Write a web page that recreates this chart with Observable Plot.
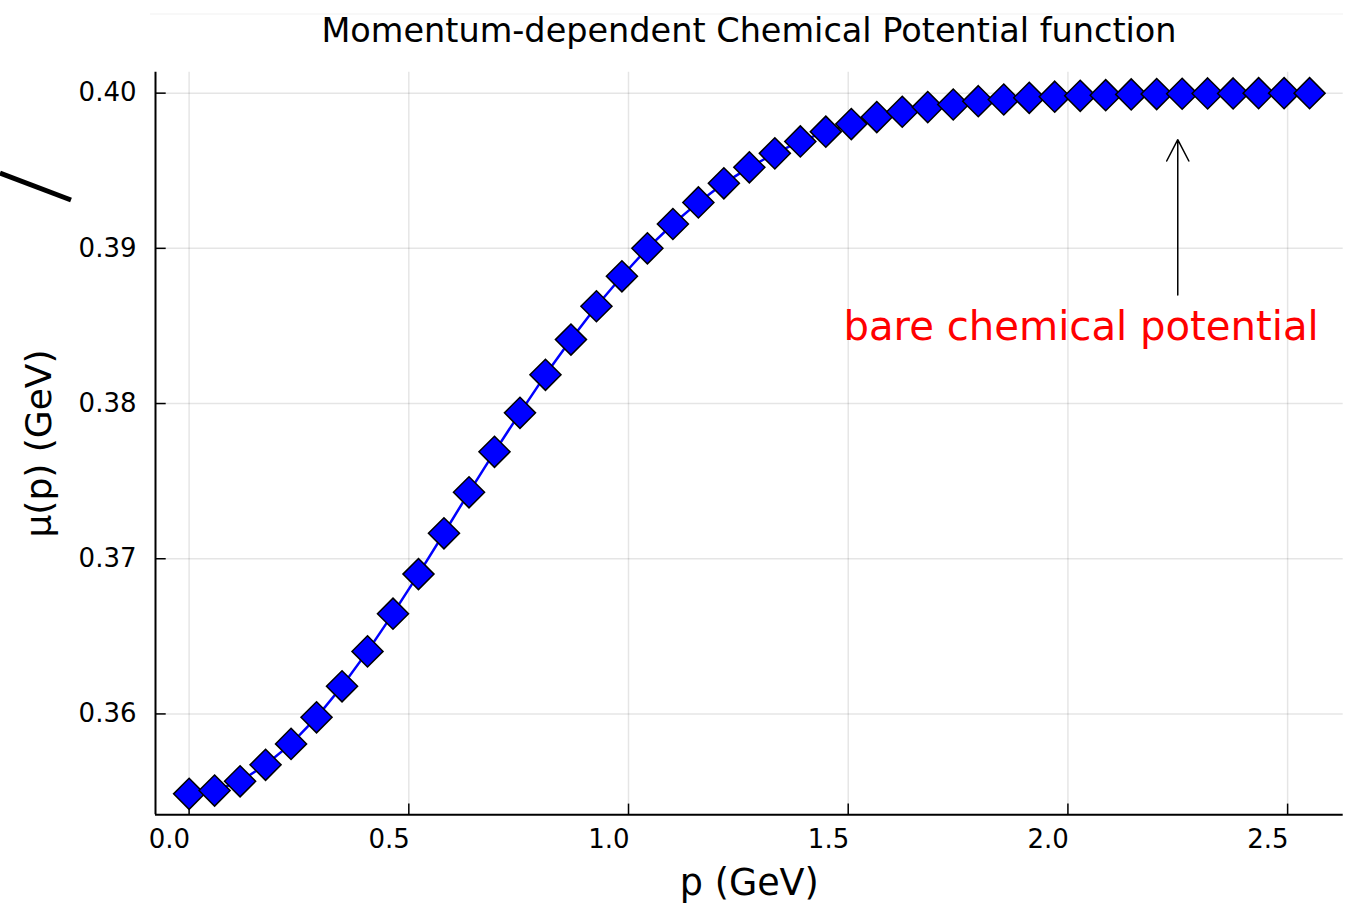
<!DOCTYPE html>
<html>
<head>
<meta charset="utf-8">
<script src="https://cdn.jsdelivr.net/npm/d3@7"></script>
<script src="https://cdn.jsdelivr.net/npm/@observablehq/plot@0.6"></script>
<style>
  html, body { margin: 0; padding: 0; background: #fff; }
  #wrap { position: relative; width: 1367px; height: 904px; font-family: "DejaVu Sans", sans-serif; }
  #deco { position: absolute; left: 0; top: 0; pointer-events: none; }
  #chart svg { overflow: visible; }
</style>
</head>
<body>
<div id="wrap">
  <svg id="titlebar" width="1367" height="60" style="display:block">
    <line x1="150" x2="1343" y1="14" y2="14" stroke="#000" stroke-opacity="0.06" stroke-width="1"></line>
    <text x="749" y="42" text-anchor="middle" font-family="DejaVu Sans" font-size="33.5" fill="#000">Momentum-dependent Chemical Potential function</text>
  </svg>
  <div id="chart"></div>
  <svg id="deco" width="1367" height="904">
    <line x1="0" y1="173" x2="71" y2="200" stroke="#000" stroke-width="5"></line>
  </svg>
</div>
<script>
// momentum grid (GeV)
const p = [0.000, 0.058, 0.116, 0.174, 0.232, 0.290, 0.348, 0.406, 0.464, 0.522,
           0.580, 0.637, 0.695, 0.753, 0.811, 0.869, 0.927, 0.985, 1.043, 1.101,
           1.159, 1.217, 1.275, 1.333, 1.391, 1.449, 1.507, 1.565, 1.623, 1.681,
           1.739, 1.796, 1.854, 1.912, 1.970, 2.028, 2.086, 2.144, 2.202, 2.260,
           2.318, 2.376, 2.434, 2.492, 2.550];
// chemical potential mu(p) (GeV)
const mu = [0.35485, 0.35506, 0.35566, 0.35672, 0.35807, 0.35978, 0.36178, 0.36403, 0.36646, 0.36901,
            0.37164, 0.37428, 0.37689, 0.37940, 0.38185, 0.38412, 0.38627, 0.38820, 0.39000, 0.39157,
            0.39296, 0.39419, 0.39522, 0.39612, 0.39689, 0.39752, 0.39801, 0.39846, 0.39880, 0.39910,
            0.39927, 0.39948, 0.39959, 0.39970, 0.39977, 0.39983, 0.39987, 0.39992, 0.39994, 0.39996,
            0.39998, 0.39998, 0.40000, 0.40000, 0.40000];
const xTicks = [0.0, 0.5, 1.0, 1.5, 2.0, 2.5];
const yTicks = [0.36, 0.37, 0.38, 0.39, 0.40];
const xDomain = [-0.0765, 2.6265];
const yDomain = [0.3535, 0.40135];
const annText = ["bare chemical potential"];
const annX = [2.03];
const annY = [0.3849];
const arrowX = [2.25];
const arrowFrom = [0.387];
const arrowTo = [0.397];
const xLabel = "p (GeV)";
const yLabel = "μ(p) (GeV)";

const data = p.map((v, i) => ({p: v, mu: mu[i]}));
const annotations = annText.map((t, i) => ({t, x: annX[i], y: annY[i]}));
const arrows = arrowX.map((x, i) => ({x, y1: arrowFrom[i], y2: arrowTo[i]}));

const W = 1367, H = 844;
const mL = 155, mR = 24.3, mT = 11.7, mB = 89.7;
const frameW = W - mL - mR, frameH = H - mT - mB;
const tickLen = 10.7;

const chart = Plot.plot({
  width: W,
  height: H,
  marginLeft: mL,
  marginRight: mR,
  marginTop: mT,
  marginBottom: mB,
  style: {fontFamily: "DejaVu Sans", fontSize: "26px", color: "#000", background: "#fff", overflow: "visible"},
  x: {domain: xDomain, axis: null},
  y: {domain: yDomain, axis: null},
  marks: [
    Plot.gridX(xTicks, {stroke: "#000", strokeOpacity: 0.1, strokeWidth: 1.5}),
    Plot.gridY(yTicks, {stroke: "#000", strokeOpacity: 0.1, strokeWidth: 1.5}),
    Plot.ruleX([xDomain[0]], {stroke: "#000", strokeWidth: 2}),
    Plot.ruleY([yDomain[0]], {stroke: "#000", strokeWidth: 2}),
    Plot.tickX(xTicks, {x: d => d, insetTop: frameH - tickLen, stroke: "#000", strokeWidth: 1.5}),
    Plot.tickY(yTicks, {y: d => d, insetRight: frameW - tickLen, stroke: "#000", strokeWidth: 1.5}),
    Plot.axisX(xTicks, {tickSize: 0, tickPadding: 15.2, textAnchor: "end", dx: 1, tickFormat: d3.format(".1f"), fontSize: 26, label: null}),
    Plot.axisY(yTicks, {tickSize: 0, tickPadding: 19, tickFormat: d3.format(".2f"), fontSize: 26, label: null}),
    Plot.line(data, {x: "p", y: "mu", stroke: "#0000ff", strokeWidth: 2.5}),
    Plot.dot(data, {x: "p", y: "mu", symbol: "diamond2", r: 14, fill: "#0000ff", stroke: "#000", strokeWidth: 1.5, fillOpacity: 1}),
    Plot.arrow(arrows, {x1: "x", x2: "x", y1: "y1", y2: "y2", stroke: "#000", strokeWidth: 1.5, headLength: 24, headAngle: 55}),
    Plot.text(annotations, {x: "x", y: "y", text: "t", fill: "#ff0000", fontSize: 40.2, textAnchor: "middle", lineAnchor: "middle"}),
    Plot.text([xLabel], {frameAnchor: "bottom", text: d => d, dy: 80, textAnchor: "middle", lineAnchor: "bottom", fontSize: 36.5, fill: "#000"}),
    Plot.text([yLabel], {frameAnchor: "left", text: d => d, rotate: -90, dx: -105, textAnchor: "middle", lineAnchor: "bottom", fontSize: 36, fill: "#000"})
  ]
});
document.getElementById("chart").appendChild(chart);
</script>
</body>
</html>
